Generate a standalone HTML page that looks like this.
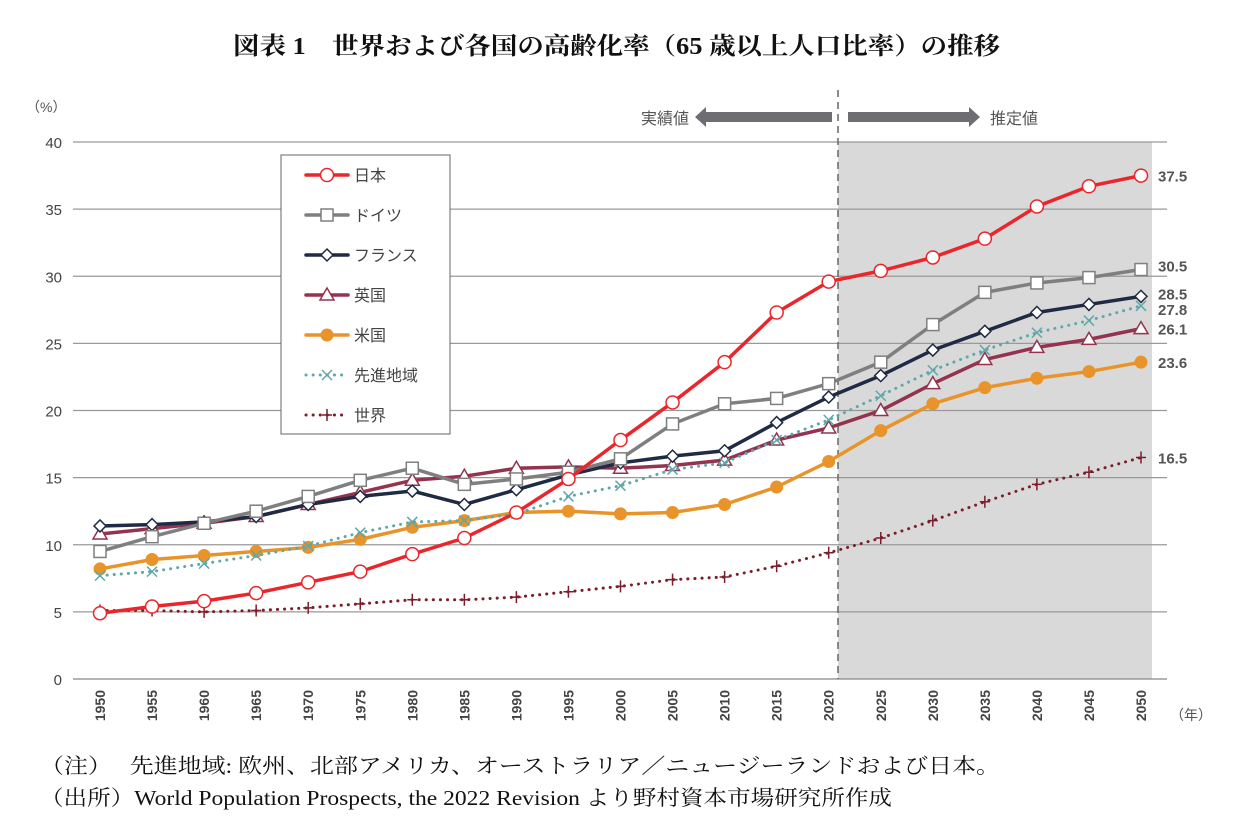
<!DOCTYPE html>
<html><head><meta charset="utf-8"><style>
body{margin:0;background:#fff;width:1236px;height:836px;overflow:hidden}
svg{display:block}
.sans{font-family:"Liberation Sans","Noto Sans CJK JP",sans-serif}
.serif{font-family:"Liberation Serif","Noto Serif CJK SC",serif}
</style></head><body>
<svg id="chart" width="1236" height="836">
<text class="serif" x="233" y="54" textLength="767" lengthAdjust="spacingAndGlyphs" font-size="24" font-weight="bold" fill="#111">図表 1　世界および各国の高齢化率（65 歳以上人口比率）の推移</text>
<rect x="838" y="142" width="314" height="537" fill="#d9d9d9"/>
<g id="grid"></g>
<line x1="838" y1="90" x2="838" y2="679" stroke="#666" stroke-width="1.5" stroke-dasharray="7,5"/>
<text class="sans" x="689" y="124" text-anchor="end" font-size="16" fill="#555">実績値</text>
<polygon points="695,117 706,107 706,112 832,112 832,122 706,122 706,127" fill="#6d6d72"/>
<polygon points="980,117 969,107 969,112 848,112 848,122 969,122 969,127" fill="#6d6d72"/>
<text class="sans" x="990" y="124" font-size="16" fill="#555">推定値</text>
<text class="sans" x="26" y="112" font-size="14" fill="#555">（%）</text>
<text class="sans" x="1170" y="720" font-size="14" fill="#555">（年）</text>
<g id="xticks"></g><g id="series"></g>
<g id="legend"></g>
<text class="serif" x="40" y="773" textLength="960" lengthAdjust="spacingAndGlyphs" font-size="21" fill="#111">（注）　 先進地域:  欧州、北部アメリカ、オーストラリア／ニュージーランドおよび日本。</text>
<text class="serif" x="40" y="805" textLength="852" lengthAdjust="spacingAndGlyphs" font-size="21" fill="#111">（出所）World Population Prospects, the 2022 Revision より野村資本市場研究所作成</text>
</svg>
<script>
const years=[1950,1955,1960,1965,1970,1975,1980,1985,1990,1995,2000,2005,2010,2015,2020,2025,2030,2035,2040,2045,2050];
const yTicks=[0,5,10,15,20,25,30,35,40];
const japan=[4.9,5.4,5.8,6.4,7.2,8.0,9.3,10.5,12.4,14.9,17.8,20.6,23.6,27.3,29.6,30.4,31.4,32.8,35.2,36.7,37.5];
const germany=[9.5,10.6,11.6,12.5,13.6,14.8,15.7,14.5,14.9,15.4,16.4,19.0,20.5,20.9,22.0,23.6,26.4,28.8,29.5,29.9,30.5];
const france=[11.4,11.5,11.7,12.1,13.0,13.6,14.0,13.0,14.1,15.2,16.1,16.6,17.0,19.1,21.0,22.6,24.5,25.9,27.3,27.9,28.5];
const uk=[10.8,11.2,11.6,12.1,13.0,13.9,14.8,15.1,15.7,15.8,15.7,15.9,16.3,17.8,18.7,20.0,22.0,23.8,24.7,25.3,26.1];
const us=[8.2,8.9,9.2,9.5,9.8,10.4,11.3,11.8,12.4,12.5,12.3,12.4,13.0,14.3,16.2,18.5,20.5,21.7,22.4,22.9,23.6];
const developed=[7.7,8.0,8.6,9.2,9.9,10.9,11.7,11.8,12.3,13.6,14.4,15.6,16.1,17.8,19.3,21.1,23.0,24.5,25.8,26.7,27.8];
const world=[5.1,5.1,5.0,5.1,5.3,5.6,5.9,5.9,6.1,6.5,6.9,7.4,7.6,8.4,9.4,10.5,11.8,13.2,14.5,15.4,16.5];
const NS='http://www.w3.org/2000/svg';
const X=yr=>100+(yr-1950)*(1041/100);
const Y=v=>679-v*(537/40);
function mk(t,a,p){const e=document.createElementNS(NS,t);for(const k in a)e.setAttribute(k,a[k]);p.appendChild(e);return e;}
const grid=document.getElementById('grid');
yTicks.forEach(v=>{
  const l=mk('line',{x1:73,x2:1167,y1:Y(v),y2:Y(v),stroke:v===0?'#888':'#999','stroke-width':1.2},grid);
  
  
  const t=mk('text',{x:62,y:Y(v)+6,'text-anchor':'end','font-size':15,fill:'#444',class:'sans'},grid);
  t.textContent=v;
  
  
});
const xt=document.getElementById('xticks');
years.forEach(yr=>{
  const t=mk('text',{x:0,y:0,transform:`translate(${X(yr)+5},690) rotate(-90)`,'text-anchor':'end','font-size':14,'font-weight':'bold',fill:'#444',class:'sans'},xt);
  t.textContent=yr;
  
  
});
function marker(type,x,y,c,g){
  if(type==='circle')return mk('circle',{cx:x,cy:y,r:6.5,fill:'#fff',stroke:c,'stroke-width':1.5},g);
  if(type==='dot')return mk('circle',{cx:x,cy:y,r:6.5,fill:c},g);
  if(type==='square')return mk('rect',{x:x-6,y:y-6,width:12,height:12,fill:'#fff',stroke:c,'stroke-width':1.5},g);
  if(type==='diamond')return mk('polygon',{points:`${x},${y-6} ${x+6},${y} ${x},${y+6} ${x-6},${y}`,fill:'#fff',stroke:c,'stroke-width':1.5},g);
  if(type==='tri')return mk('polygon',{points:`${x},${y-7} ${x+7},${y+5} ${x-7},${y+5}`,fill:'#fff',stroke:c,'stroke-width':1.5},g);
  if(type==='x')return mk('path',{d:`M${x-5},${y-5}L${x+5},${y+5}M${x+5},${y-5}L${x-5},${y+5}`,stroke:c,'stroke-width':1.5,fill:'none'},g);
  if(type==='plus')return mk('path',{d:`M${x-5},${y}L${x+5},${y}M${x},${y-6}L${x},${y+6}`,stroke:c,'stroke-width':1.5,fill:'none'},g);
}
const series=[
 {name:'world',label:'世界',data:world,c:'#7b1d2a',m:'plus',dot:true,end:'16.5',li:6},
 {name:'us',label:'米国',data:us,c:'#e8942a',m:'dot',end:'23.6',li:4},
 {name:'uk',label:'英国',data:uk,c:'#94334f',m:'tri',end:'26.1',li:3},
 {name:'developed',label:'先進地域',data:developed,c:'#5fa7ab',m:'x',dot:true,end:'27.8',li:5},
 {name:'france',label:'フランス',data:france,c:'#1f2a44',m:'diamond',end:'28.5',li:2},
 {name:'germany',label:'ドイツ',data:germany,c:'#7f7f7f',m:'square',end:'30.5',li:1},
 {name:'japan',label:'日本',data:japan,c:'#e8262b',m:'circle',end:'37.5',li:0}
];
const sg=document.getElementById('series');
series.forEach(s=>{
  const g=mk('g',{},sg);
  
  
  const pts=s.data.map((v,i)=>X(years[i])+','+Y(v)).join(' ');
  const pl=mk('polyline',{points:pts,fill:'none',stroke:s.c,'stroke-width':s.dot?3:3.5,'stroke-dasharray':s.dot?'0.1,7':'none','stroke-linecap':'round'},g);
  
  
  s.data.forEach((v,i)=>{
    const m=marker(s.m,X(years[i]),Y(v),s.c,g);
    
    
  });
  const last=s.data[s.data.length-1];
  let ly=Y(last)+6;
  if(s.name==='germany')ly=Y(last)+2;
  if(s.name==='france')ly=Y(last)+3;
  if(s.name==='developed')ly=Y(last)+9;
  const t=mk('text',{x:1158,y:ly,'font-size':15,'font-weight':'bold',fill:'#555',class:'sans'},g);
  t.textContent=s.end;
  
  
});
const lg=document.getElementById('legend');
mk('rect',{x:281,y:155,width:169,height:279,fill:'#fff',stroke:'#666','stroke-width':1},lg);
series.forEach(s=>{
  const y=175+s.li*40;
  const g=mk('g',{},lg);
  
  
  mk('line',{x1:306,x2:348,y1:y,y2:y,stroke:s.c,'stroke-width':s.dot?3:3.5,'stroke-dasharray':s.dot?'0.1,7':'none','stroke-linecap':'round'},g);
  marker(s.m,327,y,s.c,g);
  const t=mk('text',{x:354,y:y+6,'font-size':16,fill:'#444',class:'sans'},g);
  t.textContent=s.label;
});
</script>
</body></html>
